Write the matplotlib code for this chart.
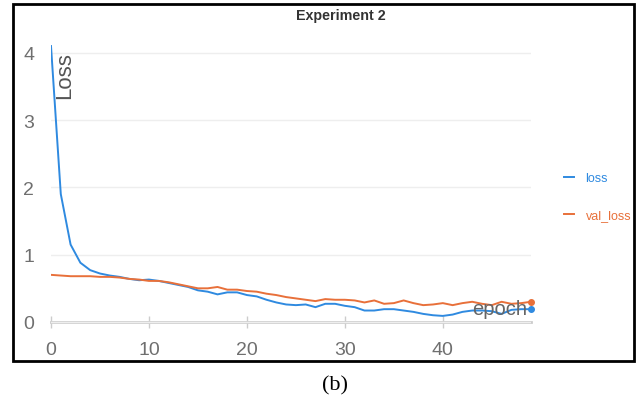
import numpy as np
import matplotlib
matplotlib.use("Agg")
import matplotlib.pyplot as plt
from matplotlib.patches import Rectangle

plt.rcParams["font.family"] = ["Liberation Sans", "DejaVu Sans"]

epochs = list(range(50))
loss = [4.10, 1.90, 1.15, 0.88, 0.77, 0.72, 0.69, 0.67, 0.64, 0.62,
        0.63, 0.61, 0.58, 0.55, 0.52, 0.47, 0.45, 0.41, 0.44, 0.44,
        0.40, 0.38, 0.33, 0.29, 0.26, 0.25, 0.26, 0.22, 0.27, 0.27,
        0.24, 0.22, 0.17, 0.17, 0.19, 0.19, 0.17, 0.15, 0.12, 0.10,
        0.09, 0.11, 0.15, 0.17, 0.17, 0.16, 0.12, 0.18, 0.19, 0.19]
val_loss = [0.70, 0.69, 0.68, 0.68, 0.68, 0.67, 0.67, 0.66, 0.64, 0.63,
            0.61, 0.61, 0.59, 0.56, 0.53, 0.50, 0.50, 0.52, 0.48, 0.48,
            0.46, 0.45, 0.42, 0.40, 0.37, 0.35, 0.33, 0.31, 0.34, 0.33,
            0.33, 0.32, 0.29, 0.32, 0.27, 0.28, 0.32, 0.28, 0.25, 0.26,
            0.28, 0.25, 0.28, 0.30, 0.27, 0.25, 0.30, 0.27, 0.28, 0.30]
x_ticks = [0, 10, 20, 30, 40]
y_ticks = [0, 1, 2, 3, 4]

blue = "#2f8ae0"
orange = "#e8703a"

W, H = 641, 410
fig = plt.figure(figsize=(W / 100, H / 100), dpi=100)
fig.patch.set_facecolor("white")

# black frame round the chart
fig.patches.append(Rectangle((13 / W, 1 - 362 / H), 621 / W, 357 / H,
                             transform=fig.transFigure, fill=False,
                             edgecolor="black", linewidth=2))

ax = fig.add_axes([51 / W, 1 - 329.7 / H, 480 / W, 289.4 / H])
ax.plot(epochs, loss, color=blue, lw=1.4, label="loss")
ax.plot(epochs, val_loss, color=orange, lw=1.4, label="val_loss")
ax.plot(epochs[-1], loss[-1], "o", color=blue, ms=4, clip_on=False)
ax.plot(epochs[-1], val_loss[-1], "o", color=orange, ms=4, clip_on=False)

ax.set_xlim(0, 49)
ax.set_ylim(-0.1, 4.2)
ax.set_xticks(x_ticks)
ax.set_yticks(y_ticks)
for s in ["top", "right", "left"]:
    ax.spines[s].set_visible(False)
ax.spines["bottom"].set_position(("data", 0))
ax.spines["bottom"].set_color("#cccccc")
ax.spines["bottom"].set_linewidth(2)
ax.spines["bottom"].set_zorder(0)
ax.tick_params(axis="x", direction="inout", length=9, width=1,
               color="#cccccc", labelsize=14, labelcolor="#6f6f6f", pad=9)
ax.tick_params(axis="y", length=0, labelsize=14, labelcolor="#6f6f6f", pad=12)
ax.grid(axis="y", color="#eeeeee", lw=1)
ax.set_axisbelow(True)

ax.text(0.35, 4.02, "Loss", rotation=90, ha="left", va="top",
        fontsize=16, color="#555555")
ax.text(48.6, 0.2, "epoch", ha="right", va="center",
        fontsize=14.5, color="#666666")

fig.text(341 / W, 1 - 16 / H, "Experiment 2", ha="center", va="center",
         fontsize=10.3, fontweight="bold", color="#333333")

fig.legend(loc="upper left", bbox_to_anchor=(553 / W, 1 - 162 / H),
           frameon=False, fontsize=9, labelcolor="linecolor",
           handlelength=0.8, handletextpad=0.9, labelspacing=2.0)

fig.text(335 / W, 1 - 386 / H, "(b)", ha="center", va="center",
         fontsize=16, family=["Liberation Serif", "DejaVu Serif"])

fig.savefig("out.png", dpi=100)
